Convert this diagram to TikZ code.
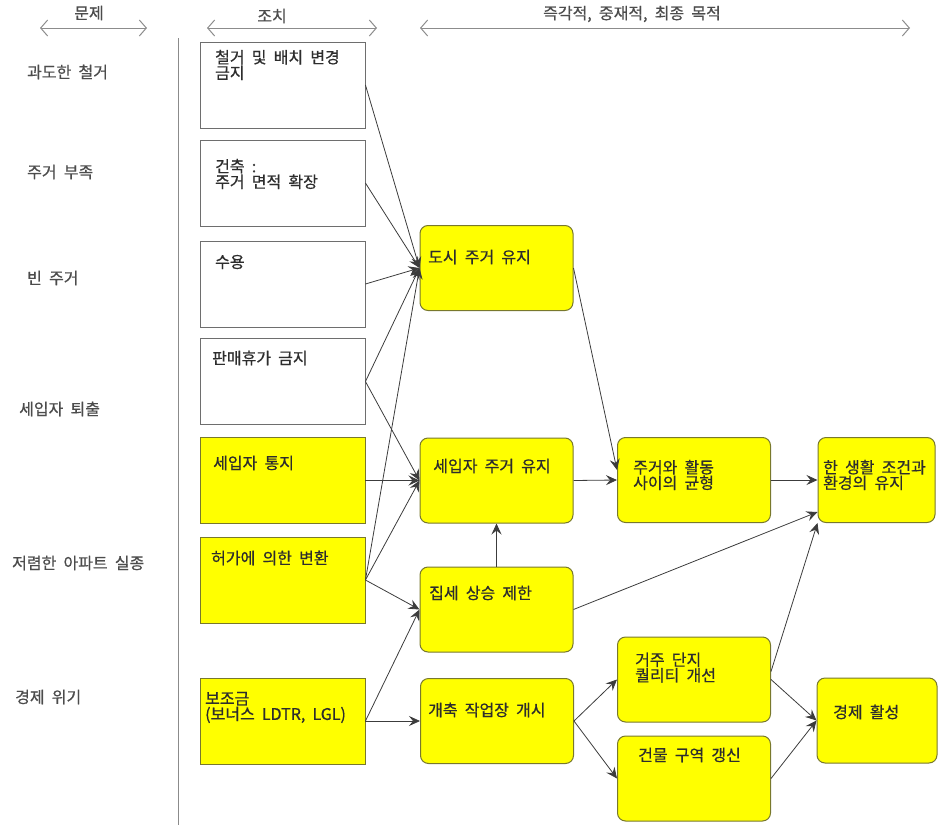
\documentclass[tikz,border=0pt]{standalone}
\usepackage{fontspec}
\setmainfont{Noto Sans CJK KR}[WordSpace=2,FakeBold=0.6]
\usetikzlibrary{arrows.meta,calc}
\definecolor{boxyellow}{RGB}{255,255,0}
\definecolor{olivebd}{RGB}{120,120,45}
\definecolor{greybd}{RGB}{110,110,110}
\definecolor{txtc}{RGB}{45,45,45}
\definecolor{connc}{RGB}{60,60,60}
\definecolor{hdrc}{RGB}{140,140,140}
\tikzset{
  mbox/.style={draw=greybd, line width=0.9pt, fill=white, minimum width=165pt, minimum height=86pt, inner sep=0pt},
  mboxy/.style={mbox, draw=olivebd, fill=boxyellow},
  obox/.style={draw=olivebd, line width=1pt, fill=boxyellow, rounded corners=8pt, minimum width=153pt, minimum height=85pt, inner sep=0pt},
  txt/.style={font=\fontsize{16}{15.5}\selectfont, inner sep=0pt, anchor=west, align=left, text=txtc},
  lbl/.style={txt, text=black!70},
  conn/.style={draw=connc, line width=0.8pt, -{Stealth[length=11pt,width=10pt,inset=4pt]}},
  harrow/.style={draw=hdrc, line width=1pt, {Straight Barb[length=7pt,width=16pt]}-{Straight Barb[length=7pt,width=16pt]}},
}
\begin{document}
\begin{tikzpicture}[x=1pt,y=-1pt]
\useasboundingbox (0,0) rectangle (938,825);

% header
\coordinate (h1a) at (40,28); \coordinate (h1b) at (147,28);
\coordinate (h2a) at (207,28); \coordinate (h2b) at (377,28);
\coordinate (h3a) at (420,28); \coordinate (h3b) at (910,28);
\draw[harrow] (h1a) -- (h1b);
\draw[harrow] (h2a) -- (h2b);
\draw[harrow] (h3a) -- (h3b);
\node[lbl, anchor=center] (hl1) at (89,13) {문제};
\node[lbl, anchor=center] (hl2) at (272,16) {조치};
\node[lbl, anchor=center] (hl3) at (632,14) {즉각적, 중재적, 최종 목적};

% vertical separator
\coordinate (vtop) at (178,38); \coordinate (vbot) at (178,825);
\draw[draw=greybd!80, line width=0.9pt] (vtop) -- (vbot);

% problems
\node[lbl] (p1) at (27,72) {과도한 철거};
\node[lbl] (p2) at (27,172) {주거 부족};
\node[lbl] (p3) at (27,278) {빈 주거};
\node[lbl] (p4) at (19,409) {세입자 퇴출};
\node[lbl] (p5) at (12,563) {저렴한 아파트 실종};
\node[lbl] (p6) at (15,697) {경제 위기};

% measures
\node[mbox]  (m1) at (282.5,85) {};
\node[mbox]  (m2) at (282.5,183) {};
\node[mbox]  (m3) at (282.5,284) {};
\node[mbox]  (m4) at (282.5,381.5) {};
\node[mboxy] (m5) at (282.5,480.5) {};
\node[mboxy] (m6) at (282.5,580) {};
\node[mboxy] (m7) at (282.5,721) {};
\node[txt] (tm1) at (215,65) {철거 및 배치 변경\\금지};
\node[txt] (tm2) at (215,174) {건축 :\\주거 면적 확장};
\node[txt] (tm3) at (215,262) {수용};
\node[txt] (tm4) at (212,358) {판매휴가 금지};
\node[txt] (tm5) at (213,463) {세입자 통지};
\node[txt] (tm6) at (211,558) {허가에 의한 변환};
\node[txt] (tm7) at (205,707.5) {보조금\\(보너스 LDTR, LGL)};

% objectives
\node[obox] (o1) at (496.5,268) {};
\node[obox] (o2) at (496.5,480.5) {};
\node[obox] (o3) at (496.5,609.5) {};
\node[obox] (o4) at (497,721) {};
\node[obox] (o5) at (694,480) {};
\node[obox, minimum width=117pt] (o6) at (876.5,480) {};
\node[obox] (o7) at (694,679.5) {};
\node[obox] (o8) at (694,778.5) {};
\node[obox, minimum width=120pt] (o9) at (877,720.5) {};
\node[txt] (to1) at (428,257) {도시 주거 유지};
\node[txt, anchor=center] (to2) at (492,466) {세입자 주거 유지};
\node[txt] (to3) at (429,593) {집세 상승 제한};
\node[txt] (to4) at (428,710) {개축 작업장 개시};
\node[txt] (to5) at (633,475) {주거와 활동\\사이의 균형};
\node[txt] (to6) at (823,475) {한 생활 조건과\\환경의 유지};
\node[txt] (to7) at (635,667.5) {거주 단지\\퀄리티 개선};
\node[txt] (to8) at (638,755) {건물 구역 갱신};
\node[txt] (to9) at (833,712) {경제 활성};

% connectors
\draw[conn] (m1.east) -- (o1.west);
\draw[conn] (m2.east) -- (o1.west);
\draw[conn] (m3.east) -- (o1.west);
\draw[conn] (m4.east) -- (o1.west);
\draw[conn] (m6.east) -- (o1.west);
\draw[conn] (m4.east) -- (o2.west);
\draw[conn] (m5.east) -- (o2.west);
\draw[conn] (m6.east) -- (o2.west);
\draw[conn] (m6.east) -- (o3.west);
\draw[conn] (m7.east) -- (o3.west);
\draw[conn] (m7.east) -- (o4.west);
\draw[conn] (o3.north) -- (o2.south);
\draw[conn] (o1.east) -- ($(o5.west)+(0,-10)$);
\draw[conn] (o2.east) -- (o5.west);
\draw[conn] (o5.east) -- (o6.west);
\draw[conn] (o3.east) -- ($(o6.west)+(0,32)$);
\draw[conn] ($(o7.east)+(0,-8)$) -- (o6.south west);
\draw[conn] (o4.east) -- (o7.west);
\draw[conn] (o4.east) -- (o8.west);
\draw[conn] (o7.east) -- (o9.west);
\draw[conn] (o8.east) -- (o9.west);
\end{tikzpicture}
\end{document}
